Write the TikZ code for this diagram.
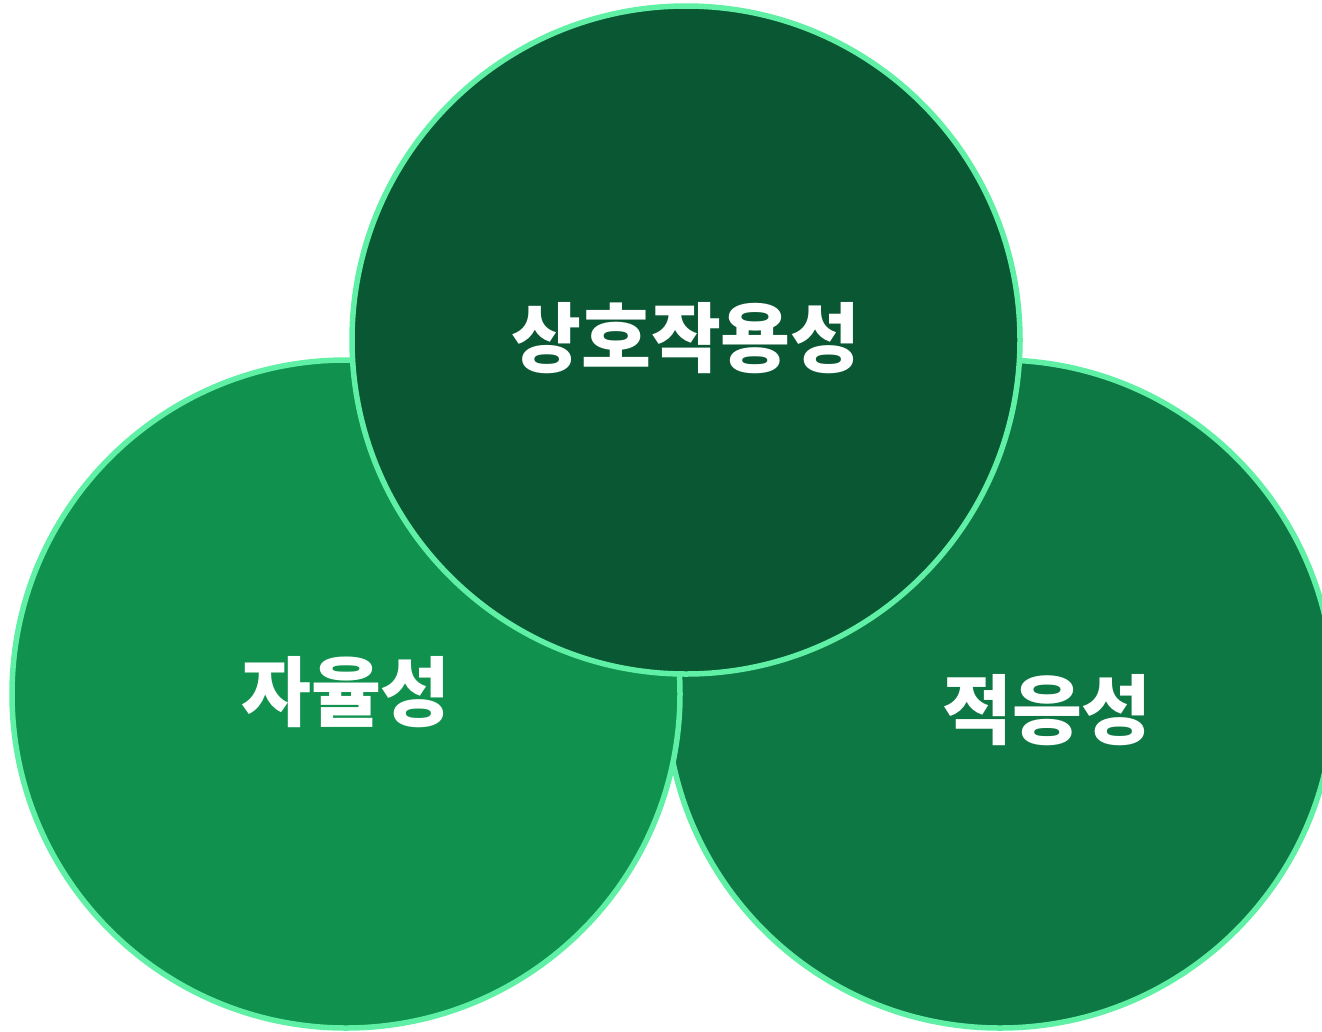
\documentclass[tikz,border=0pt]{standalone}
\usepackage{fontspec}
\newfontfamily\kr{Noto Sans CJK KR}
\definecolor{ring}{HTML}{5FF0A5}
\definecolor{fillL}{HTML}{10924E}
\definecolor{fillR}{HTML}{0D7844}
\definecolor{fillT}{HTML}{0A5733}
\tikzset{
  circ/.style={circle, draw=ring, line width=5.5pt, minimum size=668pt, inner sep=0pt},
  lbl/.style={text=white, font=\kr\bfseries\fontsize{76pt}{84pt}\selectfont, inner sep=0pt}
}
\begin{document}
\begin{tikzpicture}[x=1pt,y=-1pt]
\useasboundingbox (0,0) rectangle (1322,1031);
\clip (0,0) rectangle (1322,1031);
\node[circ, fill=fillR] (right) at (1000,694) {};
\node[circ, fill=fillL] (left) at (346,694) {};
\node[circ, fill=fillT] (top) at (686,340) {};
\node[lbl] (tt) at (686,338) {상호작용성};
\node[lbl] (lt) at (346,692) {자율성};
\node[lbl] (rt) at (1047,710) {적응성};
\end{tikzpicture}
\end{document}
